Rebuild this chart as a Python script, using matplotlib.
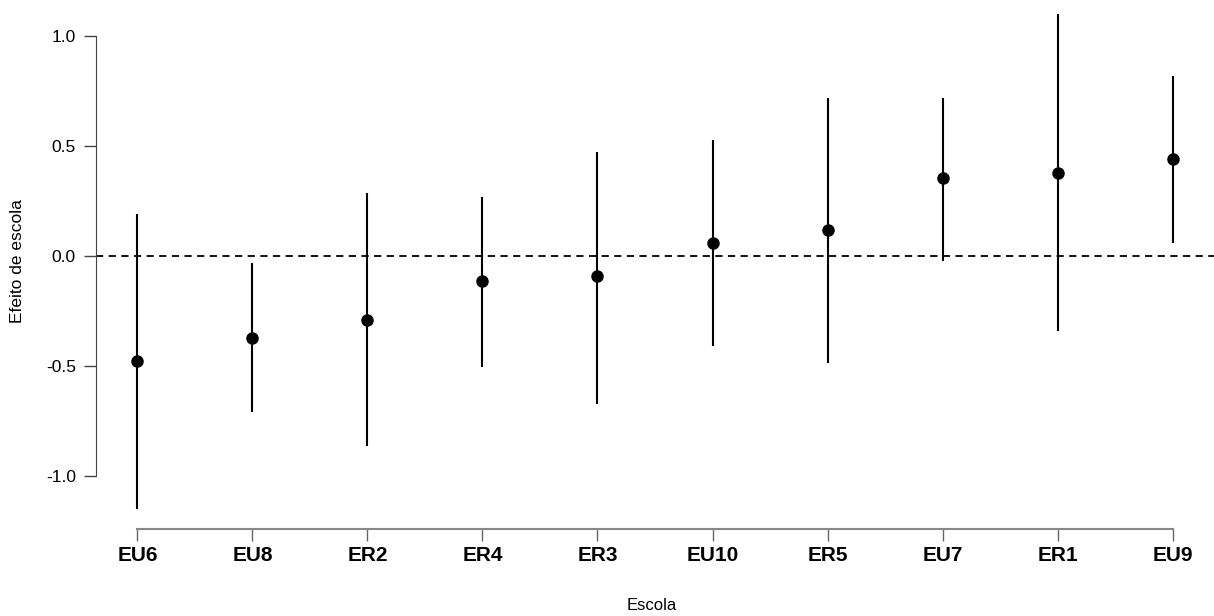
import matplotlib.pyplot as plt

escolas = ["EU6", "EU8", "ER2", "ER4", "ER3", "EU10", "ER5", "EU7", "ER1", "EU9"]
efeito = [-0.477, -0.37, -0.29, -0.115, -0.09, 0.06, 0.12, 0.355, 0.38, 0.44]
limite_inf = [-1.15, -0.71, -0.865, -0.505, -0.67, -0.41, -0.485, -0.02, -0.34, 0.06]
limite_sup = [0.19, -0.03, 0.285, 0.27, 0.475, 0.53, 0.72, 0.72, 1.10, 0.82]

plt.rcParams['font.family'] = ['Liberation Sans', 'DejaVu Sans']

fig = plt.figure(figsize=(12.14, 6.16), dpi=100)
ax = fig.add_axes([96 / 1214, (616 - 529) / 616, 1 - 96 / 1214, 529 / 616])

x = list(range(1, len(escolas) + 1))
ax.vlines(x, limite_inf, limite_sup, color="black", lw=1.5)
ax.plot(x, efeito, "o", color="black", ms=8)
ax.axhline(0, color="black", lw=1.3, ls=(0, (4, 3)))

ax.set_xlim(0.64, 10.36)
ax.set_ylim(-1.24, 1.164)

for s in ["top", "right"]:
    ax.spines[s].set_visible(False)
ax.spines["left"].set_bounds(-1.0, 1.0)
ax.spines["left"].set_color("#444444")
ax.spines["bottom"].set_bounds(1, 10)
ax.spines["bottom"].set_color("#888888")
ax.spines["bottom"].set_linewidth(1.5)

ax.set_yticks([-1.0, -0.5, 0.0, 0.5, 1.0])
ax.set_yticklabels(["-1.0", "-0.5", "0.0", "0.5", "1.0"], fontsize=12.5)
ax.tick_params(axis="y", length=8.5, width=1, color="#444444", pad=6)

ax.set_xticks(x)
ax.set_xticklabels(escolas, fontsize=15, fontweight="bold")
ax.tick_params(axis="x", length=8.5, width=1, color="#666666", pad=4)

fig.text(18 / 1214, 1 - 261 / 616, "Efeito de escola", rotation=90,
         ha="center", va="center", fontsize=12.5)
fig.text(652 / 1214, 1 - 606 / 616, "Escola", ha="center", va="center", fontsize=12)

fig.savefig("out.png", dpi=100)
